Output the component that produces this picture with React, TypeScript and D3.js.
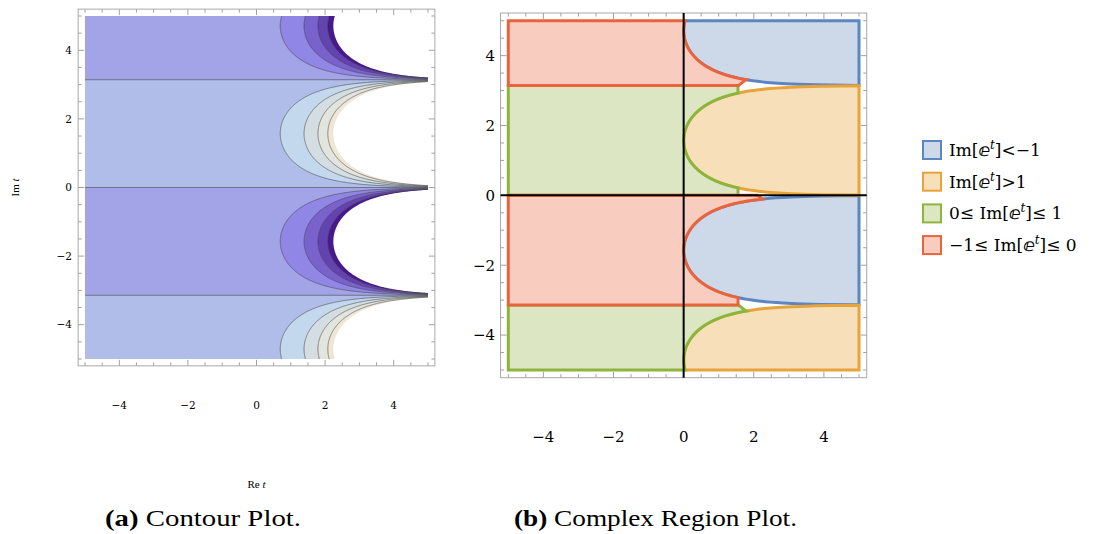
import * as d3 from "d3";
import { useEffect, useRef } from "react";

const W = 1093;
const H = 534;

// both panels plot Im[e^t] = e^(Re t) * sin(Im t) for Re t, Im t in [-5, 5]
const tickValues = [-4, -2, 0, 2, 4];
const tickLabels = ["−4", "−2", "0", "2", "4"];
const minorTicks = d3.range(-10, 11).map((k) => k / 2);

// contour plot
const contourLevels = [-8, -6, -4, -2, 0, 2, 4, 6, 8];
const valueClip = 9.4; // auto plot range of the contour plot, beyond it is white
const bandColors = [
  "#48198c",
  "#6343b0",
  "#7a62cc",
  "#8f86e6",
  "#a3a3e8",
  "#b0bde8",
  "#c3d8ec",
  "#d4dde2",
  "#e2e4de",
  "#f0e6d5",
];

// region plot
const regionPrefix = ["Im[", "Im[", "0≤ Im[", "−1≤ Im["];
const regionSuffix = ["]<−1", "]>1", "]≤ 1", "]≤ 0"];
const regionFill = ["#cdd8e9", "#f6dfb9", "#dce6c3", "#f8cdc0"];
const regionStroke = ["#5d86c0", "#e8a33a", "#8db53c", "#e9643c"];
// where the region mesh stopped resolving the cusps
const cutVertical = 1.55;
const cutDiagonal = [1.56, 1.78];
const cutAxis = [2.1, 2.25];

const f = (x: number, y: number) => Math.exp(x) * Math.sin(y);
const PI = Math.PI;

// points of the curve e^x sin y = c, for y going from ya to yb
const curve = (c: number, ya: number, yb: number, n = 240) =>
  d3.range(n + 1).map((i) => {
    const y = ya + ((yb - ya) * i) / n;
    return [Math.log(c / Math.sin(y)), y] as [number, number];
  });

const drawFrame = (g, x, y, pad) => {
  const x0 = x(-5 - pad);
  const x1 = x(5 + pad);
  const y0 = y(5 + pad);
  const y1 = y(-5 - pad);
  const len = (v) => (tickValues.includes(v) ? 6 : 3.5);
  const t = g.append("g").attr("stroke", "#a0a0a0").attr("stroke-width", 1);
  t.selectAll(".tb")
    .data(minorTicks)
    .join("line")
    .attr("x1", (d) => x(d))
    .attr("x2", (d) => x(d))
    .attr("y1", y1)
    .attr("y2", (d) => y1 - len(d));
  t.selectAll(".tt")
    .data(minorTicks)
    .join("line")
    .attr("x1", (d) => x(d))
    .attr("x2", (d) => x(d))
    .attr("y1", y0)
    .attr("y2", (d) => y0 + len(d));
  t.selectAll(".tl")
    .data(minorTicks)
    .join("line")
    .attr("y1", (d) => y(d))
    .attr("y2", (d) => y(d))
    .attr("x1", x0)
    .attr("x2", (d) => x0 + len(d));
  t.selectAll(".tr")
    .data(minorTicks)
    .join("line")
    .attr("y1", (d) => y(d))
    .attr("y2", (d) => y(d))
    .attr("x1", x1)
    .attr("x2", (d) => x1 - len(d));
  g.append("rect")
    .attr("x", x0)
    .attr("y", y0)
    .attr("width", x1 - x0)
    .attr("height", y1 - y0)
    .attr("fill", "none")
    .attr("stroke", "#a8a8a8");
};

export default function App() {
  const ref = useRef<SVGSVGElement>(null);

  useEffect(() => {
    const svg = d3.select(ref.current);
    svg.selectAll("*").remove();

    // ---------- (a) contour plot ----------
    const xA = d3.scaleLinear().domain([-5, 5]).range([85, 428]);
    const yA = d3.scaleLinear().domain([-5, 5]).range([359, 16]);
    const ga = svg.append("g");

    ga.append("clipPath")
      .attr("id", "clipA")
      .append("rect")
      .attr("x", xA(-5))
      .attr("y", yA(5))
      .attr("width", xA(5) - xA(-5))
      .attr("height", yA(-5) - yA(5));

    const n = 420;
    const step = 10 / (n - 1);
    const values = new Array(n * n);
    for (let j = 0; j < n; j++)
      for (let i = 0; i < n; i++)
        values[j * n + i] = f(-5 + i * step, 5 - j * step);

    const thresholds = [-valueClip, ...contourLevels.filter((v) => v !== 0 || true), valueClip];
    const fillColors = [...bandColors, "#ffffff"];
    const contours = d3.contours().size([n, n]).thresholds(thresholds)(values);
    const proj = d3.geoTransform({
      point(px, py) {
        this.stream.point(xA(-5 + (px - 0.5) * step), yA(5 - (py - 0.5) * step));
      },
    });
    const path = d3.geoPath(proj);

    const plotA = ga.append("g").attr("clip-path", "url(#clipA)");
    plotA
      .selectAll("path.band")
      .data(contours)
      .join("path")
      .attr("class", "band")
      .attr("d", path)
      .attr("fill", (d, i) => fillColors[i])
      .attr("stroke", "none");

    // contour lines e^x sin y = c
    const bands = [
      [-5, -PI],
      [-PI, 0],
      [0, PI],
      [PI, 5],
    ];
    const lineA = d3
      .line()
      .defined((d) => isFinite(d[0]) && d[0] < 5.6)
      .x((d) => xA(d[0]))
      .y((d) => yA(d[1]));
    const levelLines = [];
    contourLevels.forEach((c) => {
      if (c === 0) {
        [-PI, 0, PI].forEach((yy) =>
          levelLines.push([
            [-5, yy],
            [5, yy],
          ])
        );
      } else {
        bands.forEach(([lo, hi]) => {
          if (Math.sign(Math.sin((lo + hi) / 2)) === Math.sign(c))
            levelLines.push(curve(c, lo + 1e-4, hi - 1e-4, 600));
        });
      }
    });
    plotA
      .selectAll("path.level")
      .data(levelLines)
      .join("path")
      .attr("class", "level")
      .attr("d", lineA)
      .attr("fill", "none")
      .attr("stroke", "#4a4a4a")
      .attr("stroke-opacity", 0.6)
      .attr("stroke-width", 1);

    drawFrame(ga, xA, yA, 0.2);

    ga.selectAll("text.yt")
      .data(tickValues)
      .join("text")
      .attr("class", "yt")
      .attr("x", 72)
      .attr("y", (d) => yA(d))
      .attr("dy", "0.36em")
      .attr("text-anchor", "end")
      .attr("font-family", "DejaVu Serif")
      .attr("font-size", 10.5)
      .text((d, i) => tickLabels[i]);

    ga.selectAll("text.xt")
      .data(tickValues)
      .join("text")
      .attr("class", "xt")
      .attr("x", (d) => xA(d))
      .attr("y", 409)
      .attr("text-anchor", "middle")
      .attr("font-family", "DejaVu Serif")
      .attr("font-size", 10.5)
      .text((d, i) => tickLabels[i]);

    const imLabel = ga
      .append("text")
      .attr("transform", `translate(19,${yA(0)}) rotate(-90)`)
      .attr("text-anchor", "middle")
      .attr("font-family", "Liberation Serif")
      .attr("font-size", 11);
    imLabel.append("tspan").text("Im ");
    imLabel.append("tspan").attr("font-style", "italic").text("t");

    const reLabel = ga
      .append("text")
      .attr("x", xA(0))
      .attr("y", 488)
      .attr("text-anchor", "middle")
      .attr("font-family", "Liberation Serif")
      .attr("font-size", 11);
    reLabel.append("tspan").text("Re ");
    reLabel.append("tspan").attr("font-style", "italic").text("t");

    // ---------- (b) region plot ----------
    const xB = d3.scaleLinear().domain([-5, 5]).range([508.3, 859]);
    const yB = d3.scaleLinear().domain([-5, 5]).range([370, 20.7]);
    const gb = svg.append("g");

    const s5 = Math.asin(Math.exp(-5));
    const sV = Math.asin(Math.exp(-cutVertical));
    const sD = Math.asin(Math.exp(-cutDiagonal[1]));
    const sX = Math.asin(Math.exp(-cutAxis[1]));
    const xTop = -Math.log(-Math.sin(5));

    const polys = [
      // Im < -1
      [
        [[xTop, 5], [5, 5], [5, PI + s5], ...curve(-1, PI + s5, 5)],
        [[5, -s5], ...curve(-1, -s5, -PI + s5), [5, -PI + s5]],
      ],
      // Im > 1
      [
        [[5, PI - s5], ...curve(1, PI - s5, s5), [5, s5]],
        [[5, -PI - s5], ...curve(1, -PI - s5, -5), [5, -5]],
      ],
      // 0 <= Im <= 1
      [
        [
          [-5, PI],
          [cutVertical, PI],
          ...curve(1, PI - sV, sV),
          [cutVertical, 0],
          [-5, 0],
        ],
        [
          [-5, -PI],
          [cutDiagonal[0], -PI],
          ...curve(1, -PI - sD, -5),
          [-5, -5],
        ],
      ],
      // -1 <= Im <= 0
      [
        [
          [-5, 5],
          ...curve(-1, 5, PI + sD),
          [cutDiagonal[0], PI],
          [-5, PI],
        ],
        [
          [-5, 0],
          [cutAxis[0], 0],
          ...curve(-1, -sX, -PI + sV),
          [cutVertical, -PI],
          [-5, -PI],
        ],
      ],
    ];

    const lineB = d3
      .line()
      .x((d) => xB(d[0]))
      .y((d) => yB(d[1]))
      .curve(d3.curveLinearClosed);

    polys.forEach((parts, k) => {
      gb.append("g")
        .selectAll("path")
        .data(parts)
        .join("path")
        .attr("d", lineB)
        .attr("fill", regionFill[k])
        .attr("stroke", regionStroke[k])
        .attr("stroke-width", 3)
        .attr("stroke-linejoin", "miter");
    });

    drawFrame(gb, xB, yB, 0.22);

    // axes through the origin
    gb.append("line")
      .attr("x1", xB(0))
      .attr("x2", xB(0))
      .attr("y1", yB(5.22))
      .attr("y2", yB(-5.22))
      .attr("stroke", "#000")
      .attr("stroke-width", 2);
    gb.append("line")
      .attr("x1", xB(-5.22))
      .attr("x2", xB(5.22))
      .attr("y1", yB(0))
      .attr("y2", yB(0))
      .attr("stroke", "#000")
      .attr("stroke-width", 2);

    gb.selectAll("text.yt")
      .data(tickValues)
      .join("text")
      .attr("class", "yt")
      .attr("x", 495)
      .attr("y", (d) => yB(d))
      .attr("dy", "0.36em")
      .attr("text-anchor", "end")
      .attr("font-family", "DejaVu Serif")
      .attr("font-size", 15)
      .text((d, i) => tickLabels[i]);

    gb.selectAll("text.xt")
      .data(tickValues)
      .join("text")
      .attr("class", "xt")
      .attr("x", (d) => xB(d))
      .attr("y", 442)
      .attr("text-anchor", "middle")
      .attr("font-family", "DejaVu Serif")
      .attr("font-size", 15)
      .text((d, i) => tickLabels[i]);

    // ---------- legend ----------
    const lg = svg
      .append("g")
      .selectAll("g")
      .data(regionPrefix)
      .join("g")
      .attr("transform", (d, i) => `translate(923,${150 + i * 31.7})`);
    lg.append("rect")
      .attr("x", 0)
      .attr("y", -9)
      .attr("width", 18)
      .attr("height", 18)
      .attr("fill", (d, i) => regionFill[i])
      .attr("stroke", (d, i) => regionStroke[i])
      .attr("stroke-width", 2);
    const lt = lg
      .append("text")
      .attr("x", 26)
      .attr("y", 6)
      .attr("font-family", "DejaVu Serif")
      .attr("font-size", 17);
    lt.append("tspan").text((d) => d);
    lt.append("tspan").attr("font-family", "DejaVu Sans").attr("font-weight", "bold").text("ⅇ");
    lt.append("tspan")
      .attr("font-style", "italic")
      .attr("font-size", 12)
      .attr("baseline-shift", "super")
      .text("t");
    lt.append("tspan").text((d, i) => regionSuffix[i]);

    // ---------- captions ----------
    const cap = (x, w, tag, title) => {
      const t = svg
        .append("text")
        .attr("x", x)
        .attr("y", 526)
        .attr("font-family", "Liberation Serif")
        .attr("font-size", 23)
        .attr("textLength", w)
        .attr("lengthAdjust", "spacingAndGlyphs");
      t.append("tspan").attr("font-weight", "bold").text(tag);
      t.append("tspan").text(" " + title);
    };
    cap(105, 196, "(a)", "Contour Plot.");
    cap(514, 283, "(b)", "Complex Region Plot.");
  }, []);

  return (
    <svg
      ref={ref}
      width={W}
      height={H}
      style={{ position: "absolute", left: 0, top: 0, background: "#fff" }}
    />
  );
}
